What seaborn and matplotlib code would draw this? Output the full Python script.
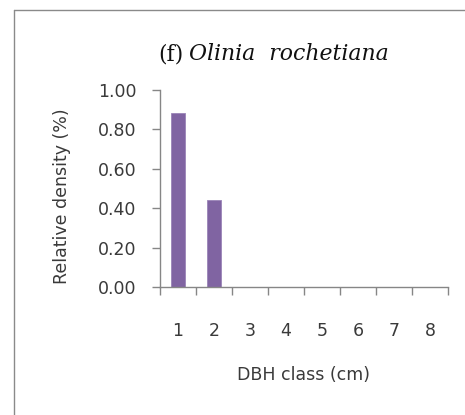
import matplotlib
matplotlib.use("Agg")
import matplotlib.pyplot as plt
from matplotlib.lines import Line2D
from matplotlib.ticker import FixedLocator
import seaborn as sns
import pandas as pd

dbh_classes = ["1", "2", "3", "4", "5", "6", "7", "8"]
relative_density = [0.885, 0.44, 0, 0, 0, 0, 0, 0]
y_ticks = [0.0, 0.2, 0.4, 0.6, 0.8, 1.0]
y_tick_labels = ["0.00", "0.20", "0.40", "0.60", "0.80", "1.00"]

df = pd.DataFrame({"DBH class": dbh_classes, "Relative density": relative_density})

sns.set_theme(style="white")
plt.rcParams["font.family"] = ["DejaVu Sans"]

W, H = 465, 415
fig = plt.figure(figsize=(W / 100, H / 100), dpi=100)
ax = fig.add_axes([160 / W, 1 - 287 / H, (448 - 160) / W, (287 - 90) / H])

sns.barplot(data=df, x="DBH class", y="Relative density", color="#8064A2",
            width=0.38, saturation=1, edgecolor="#9A84B8", linewidth=0.6, ax=ax)

ax.set_xlim(-0.5, 7.5)
ax.set_ylim(0, 1.0)
ax.set_yticks(y_ticks)
ax.set_yticklabels(y_tick_labels)

axis_col = "#868686"
text_col = "#3a3a3a"
fs = 12.5
for s in ["top", "right"]:
    ax.spines[s].set_visible(False)
for s in ["left", "bottom"]:
    ax.spines[s].set_color(axis_col)
    ax.spines[s].set_linewidth(1.0)

ax.tick_params(axis="y", which="major", direction="out", length=5.8, width=1.0,
               color=axis_col, pad=11, labelsize=fs, labelcolor=text_col, left=True)
ax.tick_params(axis="x", which="major", length=0, pad=25, labelsize=fs,
               labelcolor=text_col, bottom=True)
ax.xaxis.set_minor_locator(FixedLocator([i - 0.5 for i in range(9)]))
ax.tick_params(axis="x", which="minor", direction="out", length=5.8, width=1.0,
               color=axis_col, bottom=True)

ax.set_xlabel("DBH class (cm)", fontsize=fs, color=text_col)
ax.set_ylabel("Relative density (%)", fontsize=fs, color=text_col)
ax.xaxis.set_label_coords(0.497, -0.447)
ax.xaxis.label.set_va("center")
ax.yaxis.set_label_coords(-0.34, 0.46)
ax.yaxis.label.set_va("center")

# title
fig.text(183 / W, 1 - 54 / H, "(f)", fontsize=15.8, family="DejaVu Serif",
         ha="right", va="center", color="#111111")
fig.text(189 / W, 1 - 54 / H, "Olinia  rochetiana", fontsize=15.8, family="DejaVu Serif",
         style="italic", ha="left", va="center", color="#111111")

# outer frame
fx, fy = 14 / W, 1 - 10.5 / H
fig.add_artist(Line2D([fx, fx], [0, fy], transform=fig.transFigure, color="#8a8a8a", lw=1.0))
fig.add_artist(Line2D([fx, 1], [fy, fy], transform=fig.transFigure, color="#8a8a8a", lw=1.0))

fig.savefig("out.png", dpi=100)
